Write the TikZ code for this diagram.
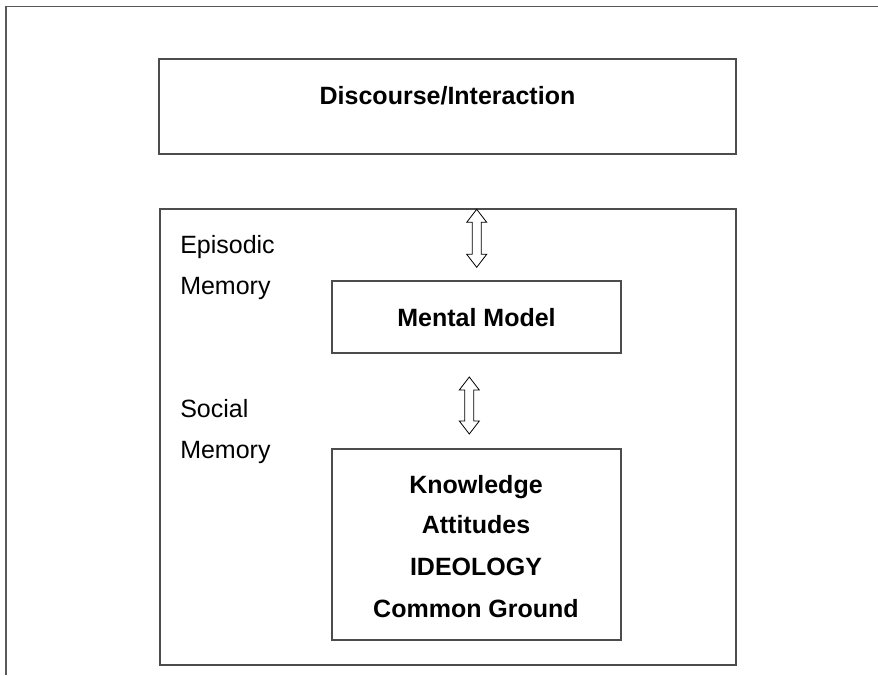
\documentclass[tikz,border=0pt]{standalone}
\usepackage{fontspec}
\setmainfont{Liberation Sans}
\usetikzlibrary{calc}
\begin{document}
\begin{tikzpicture}[x=0.75pt,y=-0.75pt,
  frameline/.style={draw=black!65,line width=0.9pt},
  boxline/.style={draw=black!70,line width=0.9pt},
  box/.style={boxline,rectangle,inner sep=0pt},
  lbl/.style={font=\fontsize{18.75pt}{22pt}\selectfont,inner sep=0pt},
  blbl/.style={font=\fontsize{18.75pt}{22pt}\selectfont\bfseries,inner sep=0pt},
  vbarrow/.pic={
    \draw[black,line width=0.6pt,fill=white]
      (0,-#1/2) -- (10,-#1/2+13) -- (4.5,-#1/2+13) -- (4.5,#1/2-13) -- (10,#1/2-13)
      -- (0,#1/2) -- (-10,#1/2-13) -- (-4.5,#1/2-13) -- (-4.5,-#1/2+13) -- (-10,-#1/2+13) -- cycle;
  }]
\useasboundingbox (0,0) rectangle (878,675);
% outer frame (top and left edges only)
\coordinate (ftr) at (878,6.5);
\coordinate (ftl) at (6,6.5);
\coordinate (fbl) at (6,675);
\draw[frameline] (ftr) -- (ftl) -- (fbl);
% boxes
\node[box,minimum width=577*0.75pt,minimum height=95*0.75pt] (disc) at (447.5,106.5) {};
\node[box,minimum width=576*0.75pt,minimum height=456*0.75pt] (mem) at (448,437) {};
\node[box,minimum width=289*0.75pt,minimum height=72*0.75pt] (mm) at (476.5,317) {};
\node[box,minimum width=289*0.75pt,minimum height=191*0.75pt] (kb) at (476.5,544.5) {};
% texts
\node[blbl,anchor=base] (tdisc) at (447.5,104) {Discourse/Interaction};
\node[blbl,anchor=base] (tmm) at (476.5,326) {Mental Model};
\node[blbl,anchor=base] (tk1) at (476,493) {Knowledge};
\node[blbl,anchor=base] (tk2) at (476,533) {Attitudes};
\node[blbl,anchor=base] (tk3) at (476,575) {IDEOLOGY};
\node[blbl,anchor=base] (tk4) at (476,617) {Common Ground};
\node[lbl,anchor=base west] (ep1) at (180,253) {Episodic};
\node[lbl,anchor=base west] (ep2) at (180,294) {Memory};
\node[lbl,anchor=base west] (so1) at (180,417) {Social};
\node[lbl,anchor=base west] (so2) at (180,458) {Memory};
% double block arrows
\pic (arrA) at (476.7,238.3) {vbarrow=58};
\pic (arrB) at (469.3,405.5) {vbarrow=57};
\end{tikzpicture}
\end{document}
